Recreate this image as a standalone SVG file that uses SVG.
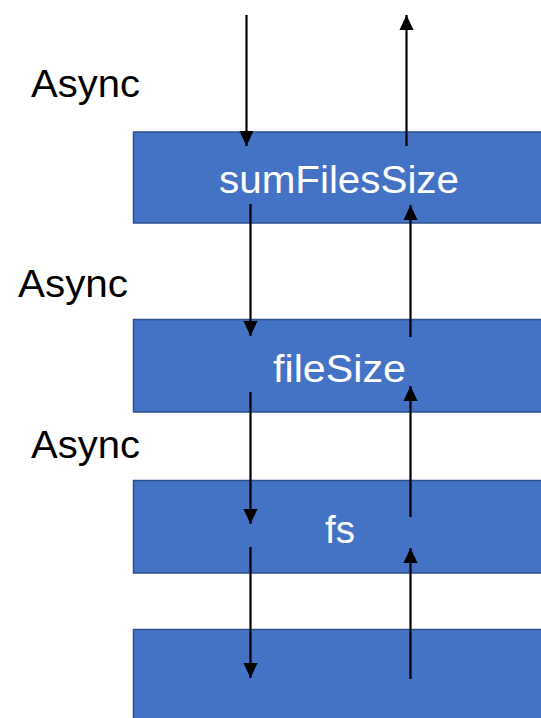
<svg xmlns="http://www.w3.org/2000/svg" width="541" height="718" viewBox="0 0 541 718">
  <style>
    .layer { fill: #4472C4; stroke: #2F528F; stroke-width: 1.5; }
    .label { fill: #FFFFFF; font-family: "Liberation Sans", Arial, sans-serif; font-size: 39px; text-anchor: middle; }
    .note { fill: #000000; font-family: "Liberation Sans", Arial, sans-serif; font-size: 39px; }
    .flow { stroke: #000000; stroke-width: 2.2; fill: none; }
  </style>
  <defs>
    <marker id="head" viewBox="0 0 10 10" refX="10" refY="5" markerUnits="userSpaceOnUse" markerWidth="15" markerHeight="15" orient="auto">
      <path d="M0,0.3 L10,5 L0,9.7 Z" fill="#000000"/>
    </marker>
  </defs>

  <!-- side notes -->
  <g id="async-1"><text class="note" x="31" y="97" textLength="109" lengthAdjust="spacingAndGlyphs">Async</text></g>
  <g id="async-2"><text class="note" x="18" y="297" textLength="110" lengthAdjust="spacingAndGlyphs">Async</text></g>
  <g id="async-3"><text class="note" x="31" y="458" textLength="109" lengthAdjust="spacingAndGlyphs">Async</text></g>

  <!-- stack layers -->
  <g id="sumFilesSize">
    <rect class="layer" x="133.5" y="132" width="420" height="91"/>
    <text class="label" x="339" y="193" textLength="240" lengthAdjust="spacingAndGlyphs">sumFilesSize</text>
  </g>
  <g id="fileSize">
    <rect class="layer" x="133.5" y="319.5" width="420" height="92.5"/>
    <text class="label" x="339.5" y="382" textLength="133" lengthAdjust="spacingAndGlyphs">fileSize</text>
  </g>
  <g id="fs">
    <rect class="layer" x="133.5" y="480.5" width="420" height="92.5"/>
    <text class="label" x="340" y="543" textLength="30" lengthAdjust="spacingAndGlyphs">fs</text>
  </g>
  <g id="base">
    <rect class="layer" x="133.5" y="629.5" width="420" height="100"/>
  </g>

  <!-- calls going down, results coming back up -->
  <g id="connectors">
    <line class="flow" x1="246.5" y1="15" x2="246.5" y2="146" marker-end="url(#head)"/>
    <line class="flow" x1="406.5" y1="146" x2="406.5" y2="15" marker-end="url(#head)"/>

    <line class="flow" x1="250.5" y1="204" x2="250.5" y2="336" marker-end="url(#head)"/>
    <line class="flow" x1="410.5" y1="337" x2="410.5" y2="205" marker-end="url(#head)"/>

    <line class="flow" x1="250.5" y1="392" x2="250.5" y2="524" marker-end="url(#head)"/>
    <line class="flow" x1="410.5" y1="517" x2="410.5" y2="386" marker-end="url(#head)"/>

    <line class="flow" x1="250.5" y1="547" x2="250.5" y2="678" marker-end="url(#head)"/>
    <line class="flow" x1="410.5" y1="679" x2="410.5" y2="548" marker-end="url(#head)"/>
  </g>
</svg>
